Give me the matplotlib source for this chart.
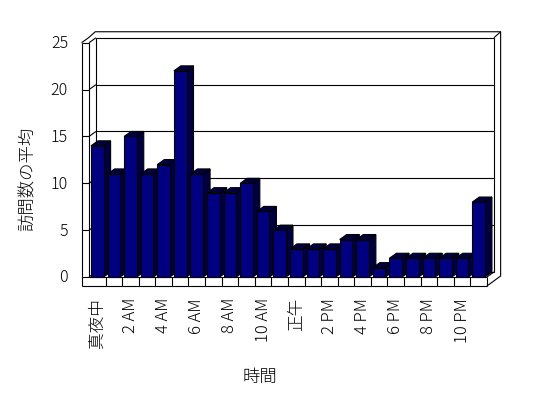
import matplotlib
matplotlib.use("Agg")
import matplotlib.pyplot as plt
from matplotlib.patches import Polygon

plt.rcParams['font.family'] = ['Noto Sans CJK JP', 'DejaVu Sans']
plt.rcParams['font.weight'] = 'light'

# ---- data ----
values = [14, 11, 15, 11, 12, 22, 11, 9, 9, 10, 7, 5,
          3, 3, 3, 4, 4, 1, 2, 2, 2, 2, 2, 8]
tick_labels = ["真夜中", "2 AM", "4 AM", "6 AM", "8 AM", "10 AM",
               "正午", "2 PM", "4 PM", "6 PM", "8 PM", "10 PM"]
y_ticks = [0, 5, 10, 15, 20, 25]
x_title = "時間"
y_title = "訪問数の平均"

# ---- layout (pixel based) ----
W, H = 548, 398
PX = 16.58      # px per category
PY = 9.37       # px per value unit
X0 = 97.3       # pixel x of category 0 centre
Y0 = 277.0      # pixel y of value 0 (front)

def ox(p):
    return p / PX

def oy(p):
    return p / PY

fig = plt.figure(figsize=(W / 100, H / 100), dpi=100)
ax = fig.add_axes([0, 0, 1, 1])
ax.set_xlim(-X0 / PX, (W - X0) / PX)
ax.set_ylim(-(H - Y0) / PY, Y0 / PY)
ax.axis('off')

n = len(values)
vmax = y_ticks[-1]
xl, xr = -0.5, n - 0.5
ddx, ddy = ox(7), oy(5)        # depth offset
LW = ox(7.5)                   # left wall thickness
FT = oy(9)                     # floor thickness
bwx, bwy = ox(6.7), oy(6)      # back wall thickness
lw = 0.8
k = 'black'

def line(xs, ys, z=1):
    ax.plot(xs, ys, color=k, lw=lw, zorder=z, solid_capstyle='butt')

# back wall inner face
ax.add_patch(Polygon([(xl + ddx, ddy), (xr + ddx, ddy), (xr + ddx, vmax + ddy), (xl + ddx, vmax + ddy)],
                     closed=True, facecolor='white', edgecolor=k, lw=lw, zorder=1))
# grid lines on back wall and left wall
for v in y_ticks[1:-1]:
    line([xl + ddx, xr + ddx], [v + ddy, v + ddy])
for v in y_ticks:
    line([xl, xl + ddx], [v, v + ddy])
    line([xl - LW, xl], [v, v])
# left wall
line([xl - LW, xl - LW], [-FT, vmax])
line([xl, xl], [0, vmax])
# tops
line([xl - LW, xl - LW + ddx, xl - LW + ddx + bwx, xr + ddx + bwx, xr + ddx + bwx, xr],
     [vmax, vmax + ddy, vmax + ddy + bwy, vmax + ddy + bwy, oy(1), -FT])
line([xr + ddx, xr + ddx + bwx], [vmax + ddy, vmax + ddy + bwy])
# floor
line([xl - LW, xr], [-FT, -FT])
line([xl, xr], [0, 0])
line([xr, xr], [0, -FT])
line([xr, xr + ddx], [0, ddy])
for j in range(1, n):
    line([xl + j, xl + j], [0, -FT])

# bars
bw = 0.76
front = '#000080'
dark = '#000040'
for i, v in enumerate(values):
    l, r = i - bw / 2, i + bw / 2
    z = 3 + i * 0.01
    ax.add_patch(Polygon([(r, 0), (r + ddx, ddy), (r + ddx, v + ddy), (r, v)],
                         closed=True, facecolor=dark, edgecolor=k, lw=lw, zorder=z))
    ax.add_patch(Polygon([(l, v), (r, v), (r + ddx, v + ddy), (l + ddx, v + ddy)],
                         closed=True, facecolor=dark, edgecolor=k, lw=lw, zorder=z))
ax.bar(range(n), values, width=bw, color=front, edgecolor=k, linewidth=lw, zorder=3.5)

# y tick labels
for v in y_ticks:
    ax.text(ox(68 - X0), v - oy(1), str(v), ha='right', va='center', fontsize=11.5)
# x tick labels
for j, t in enumerate(tick_labels):
    ax.text(2 * j, oy(Y0 - 298), t, rotation=90, ha='center', va='top', fontsize=12)
# titles
ax.text(ox(260 - X0), oy(Y0 - 377), x_title, ha='center', va='center', fontsize=12.5)
ax.text(ox(28 - X0), oy(Y0 - 179), y_title, rotation=90, ha='center', va='center', fontsize=12.5)

fig.savefig('out.png', dpi=100)
